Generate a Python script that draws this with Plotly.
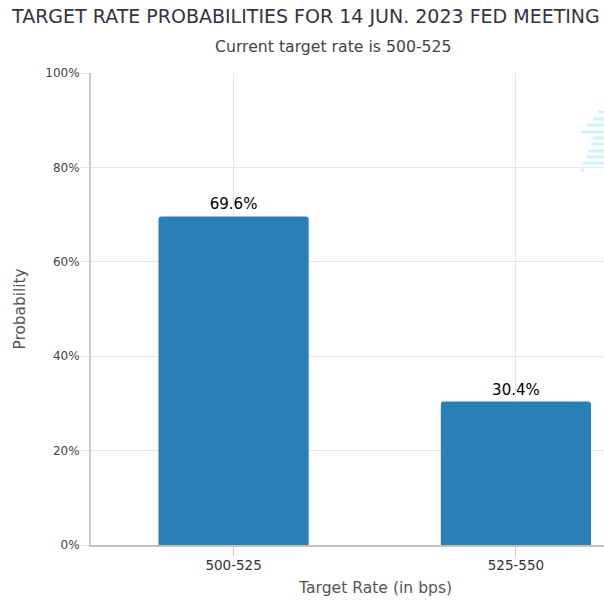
import plotly.graph_objects as go

categories = ["500-525", "525-550"]
probabilities = [69.6, 30.4]
y_tick_values = [0, 20, 40, 60, 80, 100]
y_tick_labels = ["0%", "20%", "40%", "60%", "80%", "100%"]

FONT = "DejaVu Sans"
# plot area spans window x 91..604, y 73..545 (page body margin removed below)
W, H = 604, 609
L, T, B = 91, 73, 64
PW, PH = W - L, H - T - B


def px(xw):
    return (xw - L) / PW


def py(yw):
    return (H - B - yw) / PH


fig = go.Figure()
fig.add_trace(go.Bar(
    x=categories, y=probabilities,
    marker=dict(color="#2a7fb7", cornerradius=3, line=dict(width=0)),
    width=0.532,
    texttemplate="%{y:.1f}%", textposition="outside",
    textfont=dict(family=FONT, size=15, color="#000000"),
    cliponaxis=False,
    hoverinfo="skip",
))

fig.update_layout(
    width=W, height=H,
    margin=dict(l=L, r=0, t=T, b=B),
    paper_bgcolor="white", plot_bgcolor="white",
    showlegend=False,
    font=dict(family=FONT, color="#333333"),
    xaxis=dict(
        type="category", range=[-0.505, 1.312],
        showgrid=True, gridcolor="#e6e6e6", gridwidth=1,
        showline=True, linecolor="#c0c0c0", linewidth=2,
        ticks="outside", ticklen=10, tickcolor="#cccccc",
        tickfont=dict(family=FONT, size=13.5, color="#333333"),
        ticklabelstandoff=-3,
        zeroline=False,
    ),
    yaxis=dict(
        range=[0, 100], tickvals=y_tick_values, ticktext=y_tick_labels,
        showgrid=True, gridcolor="#e6e6e6", gridwidth=1,
        showline=True, linecolor="#cccccc", linewidth=2,
        ticks="outside", ticklen=9, tickcolor="#e6e6e6",
        tickfont=dict(family=FONT, size=12, color="#444444"),
        ticklabelstandoff=-2,
        zeroline=False,
        title=dict(text="Probability", font=dict(family=FONT, size=15.3, color="#555555"), standoff=16),
    ),
)

fig.add_annotation(text="TARGET RATE PROBABILITIES FOR 14 JUN. 2023 FED MEETING",
                   xref="paper", yref="paper", x=px(305), y=py(16),
                   xanchor="center", yanchor="middle", showarrow=False,
                   font=dict(family=FONT, size=19, color="#333344"))
fig.add_annotation(text="Current target rate is 500-525",
                   xref="paper", yref="paper", x=px(333), y=py(46),
                   xanchor="center", yanchor="middle", showarrow=False,
                   font=dict(family=FONT, size=15.7, color="#444444"))
fig.add_annotation(text="Target Rate (in bps)",
                   xref="x", yref="paper", x=0.5, y=py(588),
                   xanchor="center", yanchor="middle", showarrow=False,
                   font=dict(family=FONT, size=15.6, color="#555555"))

# faint watermark fragment in the upper right corner
wm_rows = [112, 119, 125, 132, 138, 144, 151, 157, 163]
wm_starts = [598, 593, 587, 581, 593, 591, 588, 586, 583]
for yw, xs in zip(wm_rows, wm_starts):
    fig.add_shape(type="line", xref="paper", yref="paper",
                  x0=px(xs), x1=px(606), y0=py(yw), y1=py(yw),
                  line=dict(color="#cdf2fb", width=3), layer="above")
fig.add_shape(type="line", xref="paper", yref="paper",
              x0=px(581), x1=px(584), y0=py(170), y1=py(170),
              line=dict(color="#cdf2fb", width=3), layer="above")

fig.write_html(
    "out.html",
    config={"displayModeBar": False},
    post_script="document.body.style.margin='0';document.body.style.overflow='hidden';",
)
